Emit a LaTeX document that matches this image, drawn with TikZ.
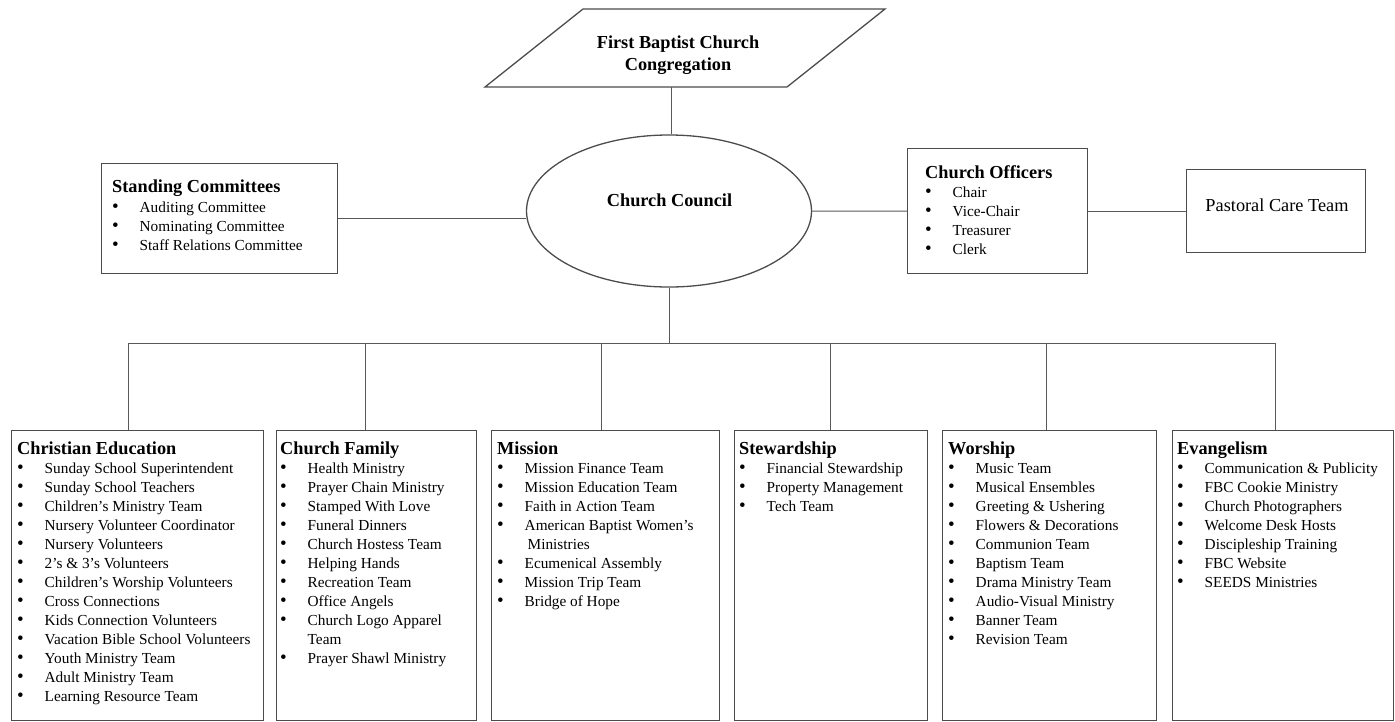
\documentclass[tikz,border=0pt]{standalone}
\usepackage{fontspec}
\setmainfont{Liberation Serif}
\usetikzlibrary{shapes.geometric}
\newcommand\itmfont{\fontsize{15.3pt}{19pt}\selectfont}
\newcommand\hdrfont{\fontsize{18.3pt}{21.7pt}\selectfont\bfseries}
\newcommand\blist[2]{\vtop{\itmfont\baselineskip=19pt\relax\hbox{\hdrfont #1}\vskip0.5pt #2}}
\newcommand\itm[1]{\hbox{\makebox[27.5pt][l]{\fontsize{19pt}{19pt}\selectfont\textbullet}#1}}
\newcommand\cnt[1]{\hbox{\hspace{27.5pt}#1}}
\begin{document}
\begin{tikzpicture}[x=1pt,y=-1pt,
  box/.style={draw=black!70, line width=1.3pt, rectangle, inner sep=0pt, anchor=north west, fill=white},
  conn/.style={draw=black!65, line width=1pt},
  txt/.style={inner sep=0pt, anchor=base west, text=black}]
\useasboundingbox (0,0) rectangle (1395,721);

% top congregation
\draw[draw=black!70, line width=1.3pt] (583,9) -- (885,9) -- (787,87) -- (485,87) -- cycle;
\node[inner sep=0pt, anchor=base] (cong) at (678,48.3)
  {\hdrfont\vtop{\baselineskip=21.7pt\halign{\hfil#\hfil\cr First Baptist Church\cr Congregation\cr}}};
\coordinate (congb) at (671,87);

% council
\node[draw=black!70, line width=1.3pt, ellipse, minimum width=285pt, minimum height=152pt, inner sep=0pt] (council) at (669,211) {};
\node[inner sep=0pt, anchor=base] (councilt) at (669.5,206) {\hdrfont Church Council};

% side boxes
\node[box, minimum width=236pt, minimum height=110pt] (stand) at (101,163) {};
\node[txt] (standt) at (112,192.7) {\blist{Standing Committees}{%
  \itm{Auditing Committee}\itm{Nominating Committee}\itm{Staff Relations Committee}}};

\node[box, minimum width=180pt, minimum height=125pt] (off) at (907,148) {};
\node[txt] (offt) at (925,178) {\blist{Church Officers}{%
  \itm{Chair}\itm{Vice-Chair}\itm{Treasurer}\itm{Clerk}}};

\node[box, minimum width=179pt, minimum height=83pt] (past) at (1186,169) {};
\node[inner sep=0pt, anchor=base] (pastt) at (1277,211.7) {\fontsize{18.3pt}{21.7pt}\selectfont Pastoral Care Team};

% bottom boxes
\node[box, minimum width=252pt, minimum height=289.5pt] (ce) at (11,430) {};
\node[box, minimum width=200pt, minimum height=289.5pt] (cf) at (276,430) {};
\node[box, minimum width=228pt, minimum height=289.5pt] (mi) at (491,430) {};
\node[box, minimum width=193pt, minimum height=289.5pt] (st) at (734,430) {};
\node[box, minimum width=214pt, minimum height=289.5pt] (wo) at (942,430) {};
\node[box, minimum width=221pt, minimum height=289.5pt] (ev) at (1172,430) {};

\node[txt] (cet) at (17,454.3) {\blist{Christian Education}{%
  \itm{Sunday School Superintendent}\itm{Sunday School Teachers}\itm{Children’s Ministry Team}%
  \itm{Nursery Volunteer Coordinator}\itm{Nursery Volunteers}\itm{2’s \& 3’s Volunteers}%
  \itm{Children’s Worship Volunteers}\itm{Cross Connections}\itm{Kids Connection Volunteers}%
  \itm{Vacation Bible School Volunteers}\itm{Youth Ministry Team}\itm{Adult Ministry Team}%
  \itm{Learning Resource Team}}};
\node[txt] (cft) at (280,454.3) {\blist{Church Family}{%
  \itm{Health Ministry}\itm{Prayer Chain Ministry}\itm{Stamped With Love}\itm{Funeral Dinners}%
  \itm{Church Hostess Team}\itm{Helping Hands}\itm{Recreation Team}\itm{Office Angels}%
  \itm{Church Logo Apparel}\cnt{Team}\itm{Prayer Shawl Ministry}}};
\node[txt] (mit) at (497,454) {\blist{Mission}{%
  \itm{Mission Finance Team}\itm{Mission Education Team}\itm{Faith in Action Team}%
  \itm{American Baptist Women’s}\cnt{\hspace{3pt}Ministries}\itm{Ecumenical Assembly}%
  \itm{Mission Trip Team}\itm{Bridge of Hope}}};
\node[txt] (stt) at (739,454) {\blist{Stewardship}{%
  \itm{Financial Stewardship}\itm{Property Management}\itm{Tech Team}}};
\node[txt] (wot) at (948,454) {\blist{Worship}{%
  \itm{Music Team}\itm{Musical Ensembles}\itm{Greeting \& Ushering}\itm{Flowers \& Decorations}%
  \itm{Communion Team}\itm{Baptism Team}\itm{Drama Ministry Team}\itm{Audio-Visual Ministry}%
  \itm{Banner Team}\itm{Revision Team}}};
\node[txt] (evt) at (1177,454) {\blist{Evangelism}{%
  \itm{Communication \& Publicity}\itm{FBC Cookie Ministry}\itm{Church Photographers}%
  \itm{Welcome Desk Hosts}\itm{Discipleship Training}\itm{FBC Website}\itm{SEEDS Ministries}}};

% connectors
\draw[conn] (congb) -- (congb |- council.north);
\draw[conn] (stand.east) -- (stand.east -| council.west);
\draw[conn] (council.east) -- (off.west);
\draw[conn] (off.east) -- (past.west);

\coordinate (bus) at (670,343);
\coordinate (b1) at (128,343);
\coordinate (b2) at (365,343);
\coordinate (b3) at (601,343);
\coordinate (b4) at (830,343);
\coordinate (b5) at (1046,343);
\coordinate (b6) at (1275,343);
\draw[conn] (council.south) -- (council.south |- bus);
\draw[conn] (b1) -- (b6);
\draw[conn] (b1) -- (b1 |- ce.north);
\draw[conn] (b2) -- (b2 |- cf.north);
\draw[conn] (b3) -- (b3 |- mi.north);
\draw[conn] (b4) -- (b4 |- st.north);
\draw[conn] (b5) -- (b5 |- wo.north);
\draw[conn] (b6) -- (b6 |- ev.north);
\end{tikzpicture}
\end{document}
